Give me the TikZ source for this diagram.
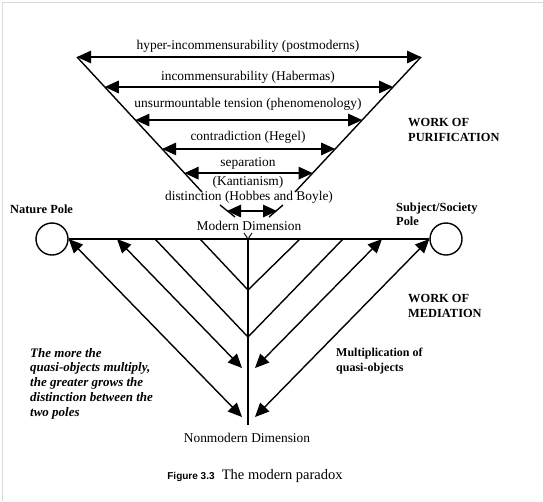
\documentclass[tikz,border=0pt]{standalone}
\usepackage{fontspec}
\setmainfont{Liberation Serif}
\setsansfont{Liberation Sans}
\usepackage{tikz}
\usetikzlibrary{arrows.meta,calc}

\begin{document}
\begin{tikzpicture}[x=1pt,y=-1pt,
  line/.style={line width=1.4pt},
  twoway/.style={line width=1.4pt,{Triangle[length=14pt,width=12.5pt]}-{Triangle[length=14pt,width=12.5pt]}},
  lab/.style={font=\fontsize{13.4}{14}\selectfont,inner sep=0pt},
  bold/.style={font=\fontsize{12.4}{14.2}\selectfont\bfseries,inner sep=0pt,align=left,anchor=west},
  pole/.style={circle,draw,line width=1.4pt,minimum size=32pt,inner sep=0pt}]
\useasboundingbox (0,0) rectangle (543,501);
\draw [black!15] (2.5,501) -- (2.5,2.5) -- (543,2.5);
% work of purification
\coordinate (pl) at (77,57);
\coordinate (pr) at (421,57);
\coordinate (ql) at (202,192);
\coordinate (qr) at (295,192);
\draw [line] (pl) -- (ql);
\draw [line] (pr) -- (qr);
\foreach \t/\n in {0/a,0.222/b,0.467/c,0.681/d,0.86/e} {
  \coordinate (l\n) at ($(pl)!\t!(ql)$);
  \coordinate (r\n) at ($(pr)!\t!(qr)$);
  \draw [twoway] (l\n) -- (r\n);
}
\draw [line] (220,205) -- (235,217);
\draw [line] (283,205) -- (269,217);
\draw [twoway] (227,211) -- (277,211);
\node [lab] (hyper) at (248,46) {hyper-incommensurability (postmoderns)};
\node [lab] (habermas) at (248,77) {incommensurability (Habermas)};
\node [lab] (phenom) at (248,104) {unsurmountable tension (phenomenology)};
\node [lab] (hegel) at (248,137) {contradiction (Hegel)};
\node [lab] (separ) at (248,163) {separation};
\node [lab] (kant) at (248,182) {(Kantianism)};
\node [lab] (hobbes) at (249,197) {distinction (Hobbes and Boyle)};
\node [lab] (modern) at (249,226) {Modern Dimension};
\node [bold] (purif) at (408,130) {WORK OF\\PURIFICATION};
% poles and work of mediation
\node [pole] (nature) at (52,239) {};
\node [pole] (society) at (446,239) {};
\node [bold] at (10,209) {Nature Pole};
\node [bold] at (396,214) {Subject/Society\\Pole};
\coordinate (top) at (248,239);
\coordinate (bot) at (248,425);
\draw [line] (nature.east) -- (society.west);
\draw [line] (top) -- (bot);
\draw [line width=0.9pt] (244,233) -- (top) -- (252,233);
\draw [line] (200,239) -- (248,290) -- (300,239);
\draw [line] (155,239) -- (248,337) -- (343,239);
\draw [twoway] (117,239) -- (242,368);
\draw [twoway] (382,239) -- (255,368);
\draw [twoway] (nature.east) -- (242,417);
\draw [twoway] (society.west) -- (255,417);
\node [bold] (media) at (408,306) {WORK OF\\MEDIATION};
\node [bold,font=\fontsize{13}{14.8}\selectfont\bfseries\itshape] (more) at (30,383.5) {The more the\\quasi-objects multiply,\\the greater grows the\\distinction between the\\two poles};
\node [bold,font=\fontsize{12}{15}\selectfont\bfseries] (multi) at (336,361.5) {Multiplication of\\quasi-objects};
\node [lab] (nonmodern) at (247,438) {Nonmodern Dimension};
\node [lab,font=\fontsize{14.5}{16}\selectfont] (caption) at (255,476) {{\sffamily\bfseries\fontsize{10}{12}\selectfont Figure 3.3}\enspace The modern paradox};
\end{tikzpicture}
\end{document}
